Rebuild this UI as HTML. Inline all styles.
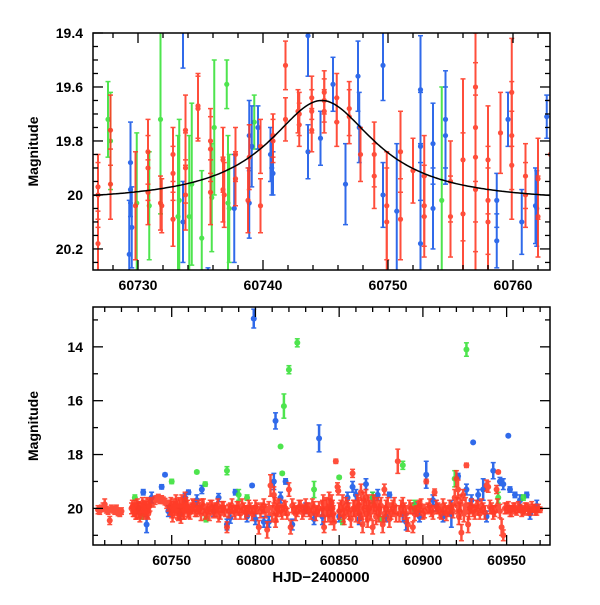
<!DOCTYPE html>
<html><head><meta charset="utf-8"><style>
body{margin:0;background:#fff}
svg text{font-family:"Liberation Sans",sans-serif;font-weight:bold;fill:#000}
</style></head><body>
<svg id="c" width="600" height="600" xmlns="http://www.w3.org/2000/svg"></svg>
<script>
// ---- Top panel data (zoom) : [day, mag, err]
const topRed = [[60726.8,19.97,0.12],[60726.8,20.0,0.12],[60726.8,20.18,0.12],[60727.8,19.76,0.13],[60727.8,19.96,0.13],[60729.8,20.04,0.2],[60730.8,19.84,0.12],[60730.8,19.9,0.12],[60730.8,19.99,0.12],[60731.8,20.03,0.1],[60731.9,20.04,0.1],[60732.8,19.85,0.1],[60732.8,19.92,0.1],[60732.8,20.09,0.1],[60733.8,19.76,0.13],[60733.8,19.9,0.13],[60733.8,20.0,0.13],[60734.8,19.67,0.12],[60734.8,19.68,0.12],[60735.8,19.8,0.12],[60735.8,19.83,0.12],[60735.8,19.99,0.12],[60736.8,19.87,0.12],[60736.8,19.98,0.12],[60736.9,20.0,0.12],[60737.8,19.85,0.1],[60737.8,19.94,0.1],[60738.8,20.02,0.12],[60738.9,19.86,0.12],[60739.8,19.82,0.1],[60739.8,20.04,0.1],[60740.8,19.78,0.08],[60740.8,19.8,0.08],[60741.8,19.52,0.09],[60741.8,19.72,0.08],[60742.8,19.69,0.08],[60742.9,19.7,0.08],[60742.9,19.74,0.08],[60743.9,19.64,0.08],[60743.9,19.69,0.08],[60743.9,19.76,0.08],[60744.9,19.62,0.08],[60744.9,19.65,0.08],[60744.9,19.69,0.08],[60745.9,19.64,0.09],[60745.9,19.73,0.09],[60746.9,19.68,0.1],[60746.9,19.71,0.1],[60747.8,19.85,0.1],[60748.9,19.85,0.12],[60748.9,19.93,0.12],[60749.9,20.04,0.2],[60749.9,20.1,0.2],[60751.0,19.84,0.15],[60751.0,20.09,0.15],[60752.0,19.91,0.12],[60752.9,19.93,0.15],[60752.9,20.04,0.15],[60752.9,20.08,0.15],[60755.0,19.95,0.15],[60755.0,20.08,0.15],[60756.0,19.87,0.3],[60756.0,20.07,0.3],[60757.0,19.6,0.35],[60757.0,19.75,0.35],[60757.0,19.86,0.35],[60757.0,19.98,0.35],[60758.0,19.87,0.2],[60758.0,20.02,0.2],[60758.0,20.1,0.2],[60759.0,19.77,0.15],[60759.9,19.62,0.2],[60759.9,19.78,0.2],[60759.9,19.89,0.2],[60761.0,19.93,0.12],[60761.0,20.0,0.12],[60762.0,19.94,0.15],[60762.0,20.08,0.15],[60763.0,19.85,0.2]];
const topGreen = [[60727.6,19.72,0.14],[60727.8,19.8,0.18],[60729.9,20.03,0.26],[60730.9,20.04,0.2],[60731.8,19.72,0.35],[60733.2,20.08,0.3],[60733.3,20.02,0.3],[60734.1,20.08,0.3],[60734.3,19.96,0.3],[60735.1,20.16,0.25],[60735.9,20.01,0.2],[60736.1,19.75,0.25],[60737.1,19.59,0.09],[60737.3,20.05,0.2],[60737.2,20.03,0.25],[60739.3,19.73,0.1],[60754.3,20.02,0.42]];
const topBlue = [[60729.4,19.88,0.15],[60729.5,20.12,0.15],[60729.3,20.22,0.2],[60729.4,19.98,0.1],[60733.6,20.1,0.15],[60733.6,19.38,0.15],[60735.6,20.32,0.05],[60737.7,20.05,0.2],[60738.9,19.78,0.13],[60738.9,20.03,0.13],[60739.1,19.82,0.15],[60739.6,19.75,0.08],[60740.6,19.85,0.1],[60740.7,19.9,0.1],[60740.8,19.92,0.08],[60743.6,19.41,0.15],[60743.6,19.84,0.1],[60744.6,19.79,0.1],[60745.6,19.59,0.1],[60746.6,19.96,0.15],[60747.6,19.56,0.13],[60747.7,19.75,0.13],[60749.6,19.52,0.13],[60749.6,20.0,0.12],[60750.7,20.06,0.25],[60752.6,19.61,0.2],[60752.6,19.82,0.2],[60752.6,20.18,0.3],[60753.6,19.81,0.15],[60753.6,20.05,0.15],[60754.6,19.72,0.18],[60754.6,19.78,0.18],[60758.7,20.02,0.1],[60758.7,20.17,0.1],[60759.6,19.72,0.1],[60760.7,20.1,0.12],[60761.8,20.04,0.14],[60761.9,20.05,0.14],[60762.7,19.71,0.08],[60760.3,19.33,0.05]];
const modelPeak = [60744.7];
const modelBase = [20.03];
const modelAmp = [0.38];
const modelWidth = [5.2];
// ---- Bottom panel data : [day, mag, err]
const botRed = [[60706,20.05,0.15],[60707,20.1,0.12],[60708,20.0,0.12],[60709,19.95,0.15],[60710,19.85,0.2],[60711,20.05,0.12],[60712,20.1,0.12],[60713,20.45,0.15],[60714,20.0,0.12],[60715,20.05,0.12],[60716,20.1,0.12],[60717,20.0,0.12],[60718,20.15,0.12],[60719,20.2,0.1],[60720,20.1,0.12],[60726,20.0,0.2],[60727,20.1,0.2],[60728,19.9,0.2],[60729,20.2,0.2],[60730,19.95,0.2],[60731,20.3,0.2],[60732,20.0,0.2],[60733,19.9,0.2],[60734,20.1,0.2],[60735,19.8,0.2],[60736,20.2,0.2],[60737,19.9,0.2],[60738,19.75,0.15],[60739,19.8,0.15],[60740,19.7,0.15],[60741,19.65,0.12],[60742,19.6,0.12],[60743,19.7,0.12],[60744,19.65,0.12],[60745,19.7,0.12],[60746,19.75,0.12],[60747,19.85,0.15],[60748,19.9,0.2],[60749,20.0,0.25],[60750,20.1,0.25],[60751,19.85,0.2],[60752,20.0,0.25],[60753,19.9,0.25],[60754,20.2,0.25],[60755,20.0,0.3],[60756,19.8,0.3],[60757,20.1,0.3],[60758,19.7,0.3],[60759,19.9,0.2],[60760,20.1,0.25],[60762,20.0,0.2],[60763,19.9,0.2],[60765,20.1,0.2],[60767,20.0,0.2],[60768,19.85,0.2],[60770,20.2,0.2],[60772,20.0,0.2],[60773,19.9,0.2],[60775,20.1,0.25],[60777,20.0,0.2],[60778,20.3,0.2],[60780,19.95,0.2],[60782,20.1,0.2],[60783,20.7,0.2],[60785,20.0,0.2],[60787,20.1,0.2],[60789,19.95,0.2],[60791,20.2,0.2],[60793,20.0,0.2],[60795,20.1,0.2],[60797,20.0,0.2],[60799,20.1,0.2],[60801,20.0,0.2],[60802,20.7,0.25],[60804,20.0,0.2],[60806,20.1,0.25],[60807,20.8,0.3],[60808,20.0,0.25],[60809,19.15,0.4],[60810,20.2,0.3],[60811,19.5,0.3],[60812,20.45,0.25],[60813,20.0,0.3],[60815,20.1,0.2],[60817,19.9,0.2],[60819,20.2,0.2],[60820,19.3,0.25],[60821,20.7,0.25],[60823,20.0,0.2],[60825,20.1,0.2],[60827,19.9,0.2],[60829,20.1,0.2],[60831,20.0,0.2],[60833,20.2,0.2],[60835,19.95,0.2],[60837,20.1,0.2],[60840,20.0,0.3],[60841,20.7,0.2],[60843,20.0,0.3],[60844,19.7,0.3],[60845,20.3,0.3],[60846,20.0,0.3],[60847,20.5,0.3],[60848,18.25,0.08],[60849,19.2,0.15],[60849.5,19.35,0.15],[60850,20.1,0.3],[60852,19.8,0.3],[60853,20.3,0.3],[60855,20.0,0.3],[60857,20.4,0.3],[60858,18.7,0.15],[60859,20.0,0.3],[60861,19.8,0.3],[60862,20.2,0.35],[60863,19.4,0.3],[60864,20.6,0.3],[60865,20.0,0.3],[60866,19.6,0.3],[60867,20.4,0.3],[60868,20.0,0.3],[60870,20.7,0.25],[60871,19.9,0.3],[60872,20.3,0.3],[60874,20.0,0.3],[60876,20.6,0.3],[60877,19.3,0.2],[60878,20.0,0.3],[60880,20.4,0.3],[60882,20.0,0.3],[60884,20.2,0.3],[60885,18.25,0.45],[60887,20.0,0.3],[60889,20.1,0.3],[60891,20.6,0.25],[60893,20.0,0.2],[60894,20.7,0.2],[60896,20.1,0.2],[60898,19.9,0.2],[60900,20.2,0.2],[60902,19.0,0.08],[60903,20.0,0.2],[60905,20.1,0.2],[60907,19.4,0.12],[60909,20.0,0.2],[60911,20.2,0.2],[60913,20.0,0.2],[60915,20.1,0.2],[60917,20.0,0.2],[60919,19.6,0.3],[60920,18.9,0.3],[60921,19.3,0.35],[60922,20.1,0.3],[60923,20.9,0.3],[60924,19.5,0.2],[60926,18.4,0.08],[60927,20.6,0.3],[60928,20.0,0.2],[60930,20.1,0.2],[60932,19.9,0.2],[60934,20.2,0.2],[60936,20.0,0.2],[60938,19.15,0.2],[60939,19.2,0.2],[60941,20.0,0.2],[60943,20.1,0.2],[60944,19.3,0.15],[60945,18.65,0.05],[60947,20.7,0.3],[60948,21.0,0.2],[60950,20.0,0.2],[60952,20.1,0.2],[60954,19.95,0.15],[60956,20.1,0.15],[60958,20.0,0.15],[60960,20.1,0.15],[60962,19.95,0.15],[60964,20.1,0.15],[60966,20.0,0.15],[60968,20.1,0.15],[60970,20.05,0.1]];
const botRedDense = [[60726.5,19.95,0.25],[60727.5,20.05,0.25],[60728.5,20.15,0.25],[60729.5,19.9,0.25],[60730.5,20.1,0.25],[60731.5,20.0,0.25],[60732.5,19.85,0.25],[60733.5,20.15,0.25],[60734.5,20.0,0.25],[60735.5,20.1,0.25],[60736.5,19.9,0.25],[60749.5,19.9,0.3],[60750.5,20.2,0.3],[60751.5,20.05,0.3],[60752.5,19.8,0.3],[60753.5,20.1,0.3],[60754.5,19.9,0.3],[60755.5,20.25,0.3],[60756.5,19.95,0.3],[60757.5,20.1,0.3],[60758.5,19.9,0.3],[60759.5,20.0,0.3],[60761,20.15,0.25],[60762.5,19.9,0.25],[60764,20.05,0.25],[60766,19.95,0.25],[60767.5,20.2,0.25],[60769,19.9,0.25],[60771,20.1,0.25],[60772.5,20.2,0.25],[60774,19.95,0.25],[60776,20.05,0.25],[60777.5,19.9,0.25],[60779,20.15,0.25],[60781,20.0,0.25],[60784,20.1,0.25],[60786,19.9,0.25],[60788,20.15,0.25],[60790,20.0,0.25],[60792,19.9,0.25],[60794,20.15,0.25],[60796,19.95,0.25],[60798,20.2,0.25],[60800,19.95,0.25],[60803,20.1,0.25],[60805,19.9,0.25],[60811.5,19.9,0.3],[60812.5,20.2,0.3],[60814,19.9,0.25],[60816,20.15,0.25],[60818,20.0,0.25],[60822,19.9,0.25],[60824,20.2,0.25],[60826,19.95,0.25],[60828,20.15,0.25],[60830,19.9,0.25],[60832,20.05,0.25],[60834,19.9,0.25],[60836,20.2,0.25],[60838,20.0,0.25],[60840.5,19.8,0.3],[60841.5,20.2,0.3],[60842,19.9,0.3],[60843.5,20.2,0.3],[60844.5,19.95,0.3],[60845.5,19.8,0.3],[60846.5,20.2,0.3],[60851,20.0,0.3],[60852.5,20.2,0.3],[60854,19.9,0.3],[60856,20.1,0.3],[60858.5,20.0,0.3],[60860,20.2,0.3],[60861.5,19.9,0.3],[60863.5,20.1,0.3],[60864.5,19.7,0.3],[60866.5,20.2,0.3],[60867.5,19.8,0.3],[60869,20.1,0.3],[60870.5,19.8,0.3],[60872.5,19.9,0.3],[60873.5,20.2,0.3],[60875,19.9,0.3],[60877,20.2,0.3],[60879,19.9,0.3],[60881,20.1,0.3],[60883,19.9,0.3],[60886,20.2,0.3],[60888,19.9,0.3],[60890,20.2,0.3],[60892,19.95,0.25],[60895,20.2,0.25],[60897,20.0,0.25],[60899,19.9,0.25],[60901,20.1,0.25],[60904,19.9,0.25],[60906,20.15,0.25],[60908,19.95,0.25],[60910,20.1,0.25],[60912,19.9,0.25],[60914,20.2,0.25],[60916,19.95,0.25],[60918,20.1,0.25],[60920.5,19.9,0.3],[60921.5,20.3,0.3],[60922.5,19.8,0.3],[60924.5,20.2,0.3],[60925.5,19.9,0.3],[60927.5,20.1,0.3],[60929,19.9,0.25],[60931,20.15,0.25],[60933,20.0,0.25],[60935,19.9,0.25],[60937,20.15,0.25],[60940,19.95,0.25],[60942,20.15,0.25],[60944.5,19.9,0.25],[60946,20.1,0.25],[60949,20.0,0.2],[60951,19.95,0.2],[60953,20.1,0.2],[60955,20.0,0.2],[60957,19.95,0.2],[60959,20.1,0.2],[60961,20.0,0.2],[60963,20.05,0.2],[60965,19.95,0.2],[60967,20.05,0.2],[60969,20.0,0.15]];
const botGreen = [[60728,19.6,0.1],[60732,20.3,0.1],[60750,19.0,0.08],[60765,18.65,0.05],[60770,19.1,0.08],[60770.5,20.4,0.1],[60783,18.6,0.15],[60790,19.5,0.2],[60795,19.6,0.1],[60815,17.7,0.03],[60816,18.7,0.05],[60817,16.2,0.45],[60820,14.85,0.15],[60825,13.85,0.15],[60835,19.3,0.3],[60850,18.85,0.05],[60852,20.5,0.1],[60870,19.6,0.2],[60875,20.4,0.1],[60888,18.4,0.15],[60895,19.9,0.2],[60919,18.9,0.3],[60926,14.1,0.25],[60945,19.6,0.2],[60960,19.6,0.1]];
const botBlue = [[60730,20.0,0.2],[60733,19.4,0.1],[60735,20.6,0.3],[60744,19.2,0.08],[60746,18.75,0.05],[60748,20.1,0.2],[60755,20.2,0.2],[60760,19.4,0.08],[60768,19.3,0.15],[60775,20.1,0.2],[60783,20.6,0.2],[60788,19.4,0.1],[60798,19.15,0.05],[60799,12.95,0.35],[60800,20.4,0.2],[60805,20.5,0.2],[60811,19.0,0.3],[60812,16.75,0.3],[60818,19.0,0.1],[60822,20.6,0.2],[60830,20.0,0.2],[60838,17.4,0.5],[60840,20.3,0.3],[60845,20.0,0.3],[60858,19.2,0.2],[60860,19.5,0.2],[60866,19.1,0.2],[60873,19.5,0.2],[60880,19.5,0.1],[60888,20.2,0.3],[60890,20.5,0.3],[60895,20.0,0.2],[60902,18.75,0.5],[60908,19.9,0.2],[60917,20.2,0.5],[60921,18.8,0.1],[60926,19.3,0.2],[60930,17.55,0.03],[60933,19.5,0.2],[60936,19.3,0.4],[60942,18.6,0.3],[60946,19.0,0.15],[60948,19.1,0.2],[60951,17.3,0.03],[60952,19.3,0.1],[60955,19.5,0.1],[60962,19.5,0.1],[60964,20.2,0.2],[60968,19.9,0.2],[60738,19.6,0.2],[60758,19.6,0.15],[60765,19.7,0.2],[60778,19.6,0.15],[60785,20.35,0.2],[60795,20.3,0.2],[60808,20.5,0.2],[60815,19.6,0.2],[60835,20.4,0.2],[60850,20.3,0.2],[60855,19.6,0.2],[60862,20.4,0.2],[60870,19.6,0.2],[60878,20.3,0.2],[60898,20.3,0.2],[60906,19.7,0.2],[60912,20.3,0.2],[60929,19.7,0.2],[60938,20.3,0.2],[60958,19.7,0.2]];
const topXTicks = [60730,60740,60750,60760];
const topYTicks = [19.4,19.6,19.8,20,20.2];
const botXTicks = [60750,60800,60850,60900,60950];
const botYTicks = [14,16,18,20];

const NS="http://www.w3.org/2000/svg";
const svg=document.getElementById('c');
function mk(tag,attrs,parent){const e=document.createElementNS(NS,tag);for(const k in attrs)e.setAttribute(k,attrs[k]);(parent||svg).appendChild(e);return e;}

function panel(cfg){
  const g=mk('g',{});
  
  
  const xs=d=>cfg.x0+(d-cfg.d0)/(cfg.d1-cfg.d0)*(cfg.x1-cfg.x0);
  const ys=m=>cfg.y0+(m-cfg.m0)/(cfg.m1-cfg.m0)*(cfg.y1-cfg.y0);
  const clip='clip-'+cfg.name;
  const cp=mk('clipPath',{id:clip},g);mk('rect',{x:cfg.x0,y:cfg.y0,width:cfg.x1-cfg.x0,height:cfg.y1-cfg.y0},cp);
  const data=mk('g',{'clip-path':'url(#'+clip+')'},g);
  for(const [arr,col,cn] of cfg.series){
    const sg=mk('g',{stroke:col,fill:col,opacity:0.9},data);
    
    
    for(const p of arr){
      const x=xs(p[0]),y=ys(p[1]),ya=ys(p[1]-p[2]),yb=ys(p[1]+p[2]);
      const pt=mk('g',{},sg);
      
      
      mk('line',{x1:x,x2:x,y1:ya,y2:yb,'stroke-width':cfg.bw},pt);
      mk('line',{x1:x-2.5,x2:x+2.5,y1:ya,y2:ya,'stroke-width':1.5},pt);
      mk('line',{x1:x-2.5,x2:x+2.5,y1:yb,y2:yb,'stroke-width':1.5},pt);
      mk('circle',{cx:x,cy:y,r:cfg.r,stroke:'none'},pt);
    }
  }
  if(cfg.model){
    let d='';
    for(let i=0;i<=200;i++){const t=cfg.d0+(cfg.d1-cfg.d0)*i/200;const dt=(t-modelPeak[0])/modelWidth[0];const m=modelBase[0]-modelAmp[0]/(1+dt*dt);d+=(i?'L':'M')+xs(t).toFixed(1)+','+ys(m).toFixed(1);}
    const c=mk('path',{d:d,fill:'none',stroke:'#000','stroke-width':1.5},data);
    
    
  }
  const fr=mk('rect',{x:cfg.x0,y:cfg.y0,width:cfg.x1-cfg.x0,height:cfg.y1-cfg.y0,fill:'none',stroke:'#000','stroke-width':1.5},g);
  
  
  const ax=mk('g',{stroke:'#000','stroke-width':1.3},g);
  for(let v=Math.ceil(cfg.d0/cfg.xmin)*cfg.xmin;v<=cfg.d1;v+=cfg.xmin){
    const major=Math.abs(v/cfg.xmaj-Math.round(v/cfg.xmaj))<1e-6;const L=major?10:5;const x=xs(v);
    mk('line',{x1:x,x2:x,y1:cfg.y1,y2:cfg.y1-L},ax);mk('line',{x1:x,x2:x,y1:cfg.y0,y2:cfg.y0+L},ax);
  }
  for(let k=Math.ceil(cfg.m0/cfg.ymin-1e-6);k*cfg.ymin<=cfg.m1+1e-9;k++){
    const v=k*cfg.ymin;const major=Math.abs(v/cfg.ymaj-Math.round(v/cfg.ymaj))<1e-6;const L=major?10:5;const y=ys(v);
    mk('line',{x1:cfg.x0,x2:cfg.x0+L,y1:y,y2:y},ax);mk('line',{x1:cfg.x1,x2:cfg.x1-L,y1:y,y2:y},ax);
  }
  for(const v of cfg.xt){const t=mk('text',{x:xs(v),y:cfg.y1+20,'text-anchor':'middle','font-size':14},g);t.textContent=v;
    
    }
  for(const v of cfg.yt){const t=mk('text',{x:cfg.x0-10,y:ys(v)+5,'text-anchor':'end','font-size':14},g);t.textContent=v;
    
    }
  const yl=mk('text',{x:0,y:0,transform:'translate('+(cfg.x0-55)+','+((cfg.y0+cfg.y1)/2)+') rotate(-90)','text-anchor':'middle','font-size':14},g);
  yl.textContent='Magnitude';
  
  
}
const RED='#ff3b26',GREEN='#3be23b',BLUE='#1a5ae8';
panel({name:'zoom-panel',x0:93,x1:550,y0:33,y1:270,d0:60726.4,d1:60762.96,m0:19.4,m1:20.278,xmaj:10,xmin:2,ymaj:0.2,ymin:0.05,r:2.6,bw:2,model:true,xt:topXTicks,yt:topYTicks,
  series:[[topGreen,GREEN,'green'],[topBlue,BLUE,'blue'],[topRed,RED,'red']]});
panel({name:'full-panel',x0:93,x1:550,y0:307,y1:545,d0:60703,d1:60975.9,m0:12.52,m1:21.36,xmaj:50,xmin:10,ymaj:2,ymin:1,r:3,bw:2.5,model:false,xt:botXTicks,yt:botYTicks,
  series:[[botBlue,BLUE,'blue'],[botGreen,GREEN,'green'],[botRed,RED,'red'],[botRedDense,RED,'red-dense']]});
const xl=mk('text',{x:321,y:582,'text-anchor':'middle','font-size':15});
xl.textContent='HJD\u22122400000';


</script>
</body></html>
